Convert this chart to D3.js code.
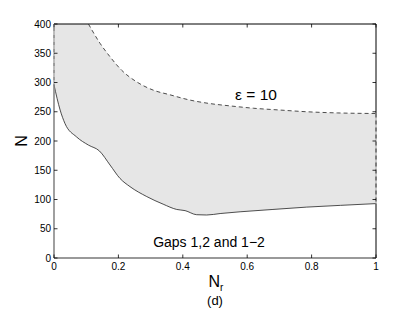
<!DOCTYPE html>
<html lang="en">
<head>
<meta charset="utf-8">
<title>Gaps chart</title>
<script src="https://cdn.jsdelivr.net/npm/d3@7"></script>
<style>
  body { margin: 0; background: #fff; }
  text { font-family: "Liberation Sans", Arial, sans-serif; }
</style>
</head>
<body>
<script>
// upper boundary (eps = 10), dashed
var upperNr = [0.107, 0.143, 0.174, 0.210, 0.257, 0.308, 0.360, 0.422, 0.484, 0.547, 0.62, 0.70, 0.785, 0.88, 1.0];
var upperN  = [400, 367, 344, 321, 301, 287, 279, 270, 264, 260, 256, 253, 250, 248, 247];
// lower boundary, solid
var lowerNr = [0, 0.019, 0.034, 0.070, 0.107, 0.141, 0.174, 0.205, 0.236, 0.288, 0.339, 0.381, 0.407, 0.443, 0.474, 0.516, 0.578, 0.68, 0.785, 0.89, 1.0];
var lowerN  = [296, 253, 230, 207, 193, 183, 159, 136, 122, 105, 92, 83, 81, 74, 73.5, 76, 79, 83, 87, 90, 93];
var xTicks = [0, 0.2, 0.4, 0.6, 0.8, 1];
var yTicks = [0, 50, 100, 150, 200, 250, 300, 350, 400];

var W = 415, H = 312;
var x = d3.scaleLinear().domain([0, 1]).range([54, 376]);
var y = d3.scaleLinear().domain([0, 400]).range([258, 24]);

var svg = d3.select("body").append("svg").attr("width", W).attr("height", H);

var upper = upperNr.map(function(d, i) { return [d, upperN[i]]; });
var lower = lowerNr.map(function(d, i) { return [d, lowerN[i]]; });

var line = d3.line().x(function(d) { return x(d[0]); }).y(function(d) { return y(d[1]); })
  .curve(d3.curveMonotoneX);

// shaded region: lower curve up to upper curve (same curve interpolation)
var lowPath = line(lower);
var upPathRev = line(upper.slice().reverse());
svg.append("path")
  .attr("d", lowPath + "L" + upPathRev.slice(1) + "L" + x(0) + "," + y(400) + "Z")
  .attr("fill", "#e6e6e6");

// box: top and right thin black
svg.append("line").attr("x1", x(0)).attr("x2", x(1)).attr("y1", y(400)).attr("y2", y(400))
  .attr("stroke", "#000").attr("stroke-width", 1);
svg.append("line").attr("x1", x(1)).attr("x2", x(1)).attr("y1", y(400)).attr("y2", y(0))
  .attr("stroke", "#000").attr("stroke-width", 1);

// curves
svg.append("path").attr("d", line(upper)).attr("fill", "none")
  .attr("stroke", "#222").attr("stroke-width", 0.8).attr("stroke-dasharray", "4,3");
svg.append("path").attr("d", lowPath).attr("fill", "none")
  .attr("stroke", "#222").attr("stroke-width", 0.8);

// dashed region edge on the right side
svg.append("line").attr("x1", x(1)).attr("x2", x(1)).attr("y1", y(upperN[upperN.length - 1])).attr("y2", y(lowerN[lowerN.length - 1]))
  .attr("stroke", "#fff").attr("stroke-width", 1.2);
svg.append("line").attr("x1", x(1)).attr("x2", x(1)).attr("y1", y(upperN[upperN.length - 1])).attr("y2", y(lowerN[lowerN.length - 1]))
  .attr("stroke", "#333").attr("stroke-width", 1).attr("stroke-dasharray", "4,3");

// left and bottom axes (gray, thicker)
svg.append("line").attr("x1", x(0)).attr("x2", x(0)).attr("y1", y(400)).attr("y2", y(0))
  .attr("stroke", "#888").attr("stroke-width", 1.6);
svg.append("line").attr("x1", x(0)).attr("x2", x(0)).attr("y1", y(400)).attr("y2", y(lowerN[0]))
  .attr("stroke", "#ddd").attr("stroke-width", 1).attr("stroke-dasharray", "4,3");
svg.append("line").attr("x1", x(0)).attr("x2", x(1)).attr("y1", y(0)).attr("y2", y(0))
  .attr("stroke", "#777").attr("stroke-width", 1.4);

// ticks (inward, all four sides)
var tk = 3.5;
xTicks.forEach(function(t) {
  svg.append("line").attr("x1", x(t)).attr("x2", x(t)).attr("y1", y(0)).attr("y2", y(0) - tk).attr("stroke", "#000").attr("stroke-width", 0.8);
  svg.append("line").attr("x1", x(t)).attr("x2", x(t)).attr("y1", y(400)).attr("y2", y(400) + tk).attr("stroke", "#000").attr("stroke-width", 0.8);
});
yTicks.forEach(function(t) {
  svg.append("line").attr("x1", x(0)).attr("x2", x(0) + tk).attr("y1", y(t)).attr("y2", y(t)).attr("stroke", "#000").attr("stroke-width", 0.8);
  svg.append("line").attr("x1", x(1)).attr("x2", x(1) - tk).attr("y1", y(t)).attr("y2", y(t)).attr("stroke", "#000").attr("stroke-width", 0.8);
});

// tick labels
svg.selectAll(".xl").data(xTicks).enter().append("text")
  .attr("x", function(d) { return x(d); }).attr("y", 270)
  .attr("text-anchor", "middle").attr("font-size", 10)
  .text(function(d) { return d3.format("")(d); });
svg.selectAll(".yl").data(yTicks).enter().append("text")
  .attr("x", 51).attr("y", function(d) { return y(d) + 3.5; })
  .attr("text-anchor", "end").attr("font-size", 10)
  .text(function(d) { return d; });

// axis titles
svg.append("text").attr("transform", "translate(27,141) rotate(-90)")
  .attr("text-anchor", "middle").attr("font-size", 16).text("N");
var xt = svg.append("text").attr("x", 216).attr("y", 287).attr("font-size", 16).attr("text-anchor", "middle");
xt.append("tspan").text("N");
xt.append("tspan").attr("font-size", 10).attr("dy", 4).text("r");
svg.append("text").attr("x", 215).attr("y", 305).attr("text-anchor", "middle").attr("font-size", 13).text("(d)");

// annotations
svg.append("text").attr("x", 256).attr("y", 100).attr("text-anchor", "middle").attr("font-size", 15.5).text("ε = 10");
svg.append("text").attr("x", 209).attr("y", 247).attr("text-anchor", "middle").attr("font-size", 14).text("Gaps 1,2 and 1−2");
</script>
</body>
</html>
